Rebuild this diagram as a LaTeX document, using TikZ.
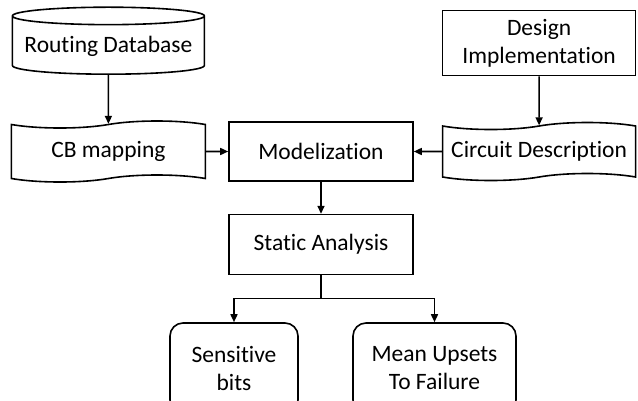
\documentclass[tikz,border=0pt]{standalone}
\usepackage{fontspec}
\setmainfont{Carlito}[Ligatures=NoCommon]
\usetikzlibrary{positioning, arrows.meta, shapes.geometric, shapes.symbols}

\begin{document}
\begin{tikzpicture}[x=1pt, y=1pt, node distance={22pt}, line width=1.6pt,
  >={Triangle[length=8pt, width=7pt]},
  every node/.style = {font=\fontsize{23.5pt}{28pt}\selectfont, align=center},
  box/.style = {draw, minimum width=184pt, minimum height=59pt},
  tapebox/.style = {draw, tape, tape bend height=7pt, minimum width=194pt, minimum height=61pt},
  store/.style = {draw, cylinder, shape border rotate=90, aspect=0.1, minimum width=192pt, minimum height=67pt},
  result/.style = {draw, rounded corners=13pt, minimum height=90pt}]
  \clip (0,0) rectangle (638,-400);
  \node[box] (model) at (321,-151.5) {Modelization};
  \node[tapebox] (cb) [left=22pt of model] {CB mapping};
  \node[tapebox, minimum width=193pt, minimum height=58pt] (circ) [right=28pt of model] {Circuit Description};
  \node[store] (db) [above=49pt of cb] {Routing Database};
  \node[box, minimum width=193pt, minimum height=65pt] (design) [above=49pt of circ] {Design\\Implementation};
  \node[box, minimum height=60pt] (static) [below=32pt of model] {Static Analysis};
  \node[result, minimum width=128pt] (sens) at (234,-368) {Sensitive\\bits};
  \node[result, minimum width=163pt] (mtf) at (434.5,-368) {Mean Upsets\\To Failure};
  \draw[->] (db) -- (cb);
  \draw[->] (design) -- (circ);
  \draw[->] (cb) -- (model);
  \draw[->] (circ) -- (model);
  \draw[->] (model) -- (static);
  \draw (static.south) -- ++(0,-23) coordinate (fork);
  \draw[->] (fork) -| (sens);
  \draw[->] (fork) -| (mtf);
\end{tikzpicture}
\end{document}
